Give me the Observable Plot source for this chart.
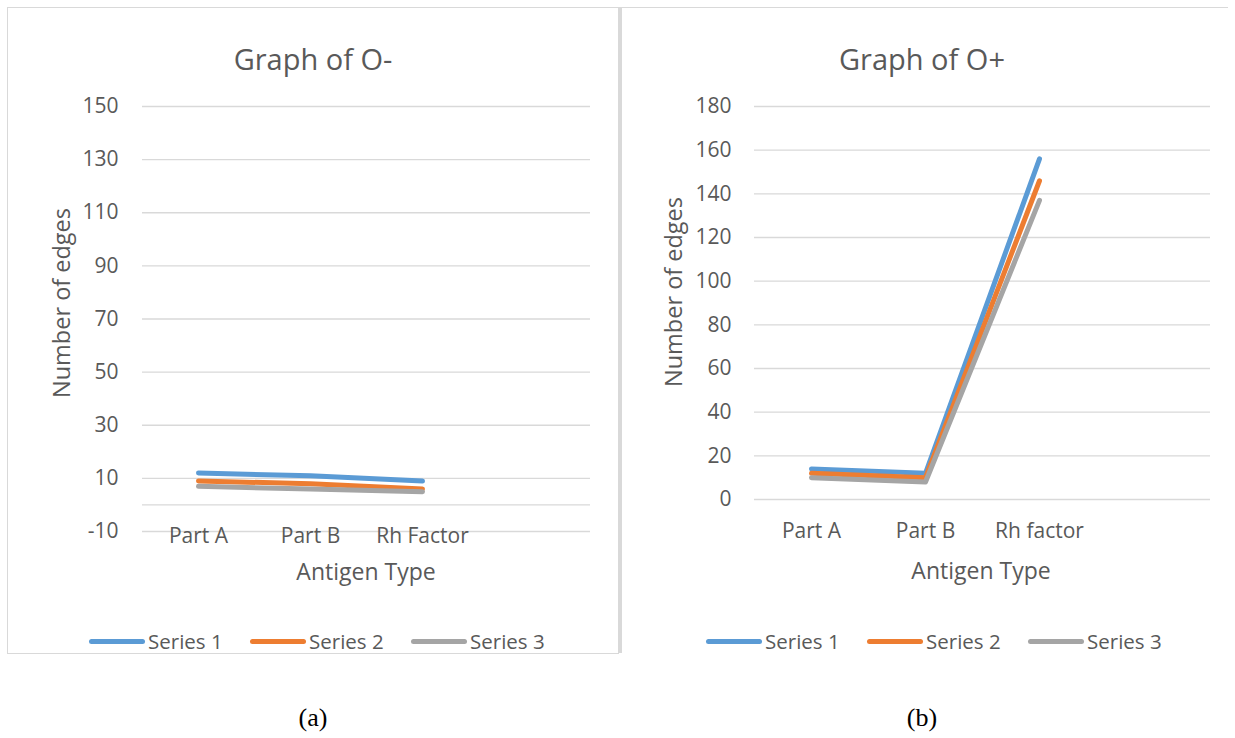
<!DOCTYPE html>
<html>
<head>
<meta charset="utf-8">
<script src="https://cdn.jsdelivr.net/npm/d3@7"></script>
<script src="https://cdn.jsdelivr.net/npm/@observablehq/plot@0.6"></script>
<style>
  html, body { margin: 0; padding: 0; background: #ffffff; }
  #page { position: relative; width: 1235px; height: 738px; overflow: hidden; font-family: "Open Sans", Lato, sans-serif; color: #595959; }
  .abs { position: absolute; }
  .title { font-size: 29px; white-space: nowrap; transform: translate(-50%, -50%); }
  .axlab { font-size: 23px; white-space: nowrap; transform: translate(-50%, -50%); }
  .ylab { font-size: 23.5px; white-space: nowrap; transform: translate(-50%, -50%) rotate(-90deg); }
  .cap { font-family: "Liberation Serif", "Times New Roman", serif; font-size: 26px; color: #000; transform: translate(-50%, -50%); }
  .legend { display: flex; align-items: center; font-size: 20.5px; transform: translate(0, -50%); white-space: nowrap; }
  .legend .item { display: flex; align-items: center; width: 161px; }
  .legend .sw { width: 56px; height: 5px; border-radius: 3px; margin-right: 3px; flex: none; }
</style>
</head>
<body>
<div id="page"></div>
<script>
// ---- data ----
const seriesNames = ["Series 1", "Series 2", "Series 3"];
const seriesColors = ["#5B9BD5", "#ED7D31", "#A5A5A5"];

const catsNeg = ["Part A", "Part B", "Rh Factor"];
const negSeries1 = [12, 11, 9];
const negSeries2 = [9, 8, 6];
const negSeries3 = [7, 6, 5];
const negTicks = [-10, 10, 30, 50, 70, 90, 110, 130, 150];

const catsPos = ["Part A", "Part B", "Rh factor"];
const posSeries1 = [14, 12, 156];
const posSeries2 = [12, 10, 146];
const posSeries3 = [10, 8, 137];
const posTicks = [0, 20, 40, 60, 80, 100, 120, 140, 160, 180];

function rows(cats, s1, s2, s3) {
  const out = [];
  [s1, s2, s3].forEach((arr, i) => arr.forEach((v, j) => out.push({cat: cats[j], value: v, series: seriesNames[i]})));
  return out;
}

const page = document.getElementById("page");
function add(html, cls, left, top) {
  const d = document.createElement("div");
  d.className = "abs " + cls;
  d.style.left = left + "px";
  d.style.top = top + "px";
  d.innerHTML = html;
  page.appendChild(d);
  return d;
}

// frames
const frameL = add("", "", 7, 7);
frameL.style.width = "611px"; frameL.style.height = "645px";
frameL.style.borderLeft = "1px solid #d9d9d9";
frameL.style.borderTop = "1px solid #d9d9d9";
frameL.style.borderBottom = "1px solid #d9d9d9";
const frameR = add("", "", 621, 7);
frameR.style.width = "607px"; frameR.style.height = "1px";
frameR.style.borderTop = "1px solid #d9d9d9";
const sep = add("", "", 618, 7);
sep.style.width = "4px"; sep.style.height = "646px"; sep.style.background = "#d9d9d9";

function chart(opts) {
  const data = rows(opts.cats, opts.s1, opts.s2, opts.s3);
  const domainX = [...opts.cats, ""];
  const marks = [
    Plot.gridY(opts.ticks, {stroke: "#d9d9d9", strokeOpacity: 1, strokeWidth: 1.3}),
  ];
  if (opts.zeroLine) marks.push(Plot.ruleY([0], {stroke: "#d9d9d9", strokeWidth: 1.3}));
  marks.push(
    Plot.axisY(opts.ticks, {tickSize: 0, tickPadding: opts.yPad, fontSize: 21, fill: "#595959", label: null, tickFormat: d => String(d)}),
    Plot.axisX(opts.cats, {tickSize: 0, tickPadding: opts.xPad, fontSize: 21, fill: "#595959", label: null}),
    Plot.line(data, {x: "cat", y: "value", z: "series", stroke: "series", strokeWidth: 5, strokeLinecap: "round", strokeLinejoin: "round"})
  );
  return Plot.plot({
    width: opts.width, height: 500,
    marginTop: opts.mt, marginBottom: opts.mb, marginLeft: opts.ml, marginRight: opts.mr,
    style: {fontFamily: "'Open Sans', Lato, sans-serif", background: "transparent", overflow: "visible"},
    x: {type: "point", domain: domainX, padding: 0.5},
    y: {domain: opts.domainY},
    color: {domain: seriesNames, range: seriesColors},
    marks
  });
}

const left = chart({cats: catsNeg, s1: negSeries1, s2: negSeries2, s3: negSeries3, ticks: negTicks,
  domainY: [-10, 150], zeroLine: true, width: 610, mt: 26, mb: 49, ml: 134, mr: 28, yPad: 24, xPad: -3});
const leftWrap = add("", "", 8, 80); leftWrap.appendChild(left);

const right = chart({cats: catsPos, s1: posSeries1, s2: posSeries2, s3: posSeries3, ticks: posTicks,
  domainY: [0, 180], zeroLine: false, width: 607, mt: 26, mb: 81, ml: 133, mr: 18, yPad: 23, xPad: 24});
const rightWrap = add("", "", 621, 80); rightWrap.appendChild(right);

// titles and labels
add("Graph of O-", "title", 313, 58);
add("Graph of O+", "title", 922, 58);
add("Number of edges", "ylab", 61, 303);
add("Number of edges", "ylab", 673, 292);
add("Antigen Type", "axlab", 366, 571);
add("Antigen Type", "axlab", 981, 570);

function legend(x, y) {
  const html = seriesNames.map((n, i) =>
    `<div class="item"><div class="sw" style="background:${seriesColors[i]}"></div><span>${n}</span></div>`).join("");
  add(html, "legend", x, y);
}
legend(89, 641);
legend(706, 641);

add("(a)", "cap", 313, 718);
add("(b)", "cap", 922, 718);
</script>
</body>
</html>
